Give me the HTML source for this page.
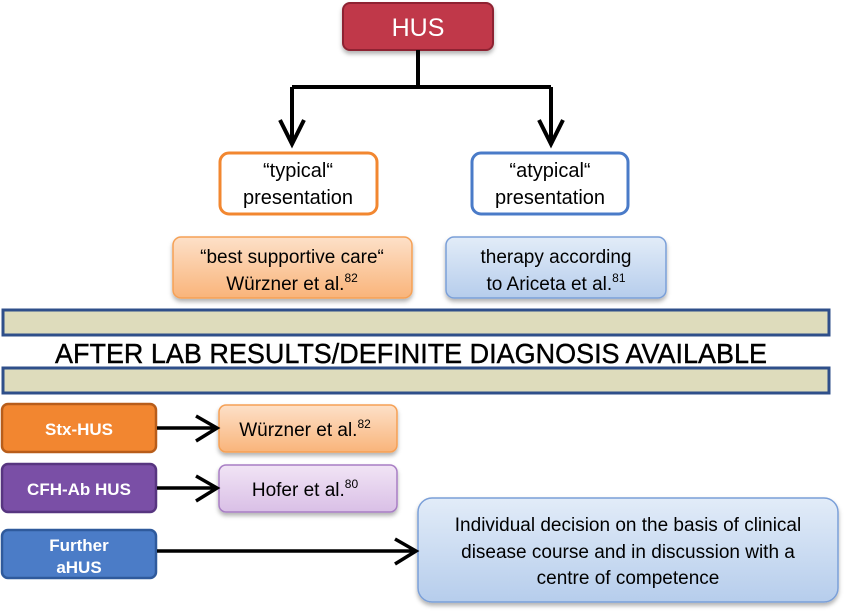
<!DOCTYPE html>
<html><head><meta charset="utf-8"><style>
html,body{margin:0;padding:0;background:#fff;}
svg{display:block;}
text{font-family:"Liberation Sans",sans-serif;}
</style></head><body>
<svg width="844" height="613" viewBox="0 0 844 613" xmlns="http://www.w3.org/2000/svg">
<defs>
<linearGradient id="og" x1="0" y1="0" x2="0" y2="1"><stop offset="0" stop-color="#fde0c8"/><stop offset="1" stop-color="#f9b47a"/></linearGradient>
<linearGradient id="bg" x1="0" y1="0" x2="0" y2="1"><stop offset="0" stop-color="#e2ecf8"/><stop offset="1" stop-color="#b6cdec"/></linearGradient>
<linearGradient id="pg" x1="0" y1="0" x2="0" y2="1"><stop offset="0" stop-color="#f1e4f5"/><stop offset="1" stop-color="#d9bfe6"/></linearGradient>
<filter id="sh" x="-5%" y="-10%" width="110%" height="130%"><feDropShadow dx="0" dy="3" stdDeviation="2" flood-color="#000" flood-opacity="0.3"/></filter>
</defs>
<!-- HUS -->
<rect x="343" y="3" width="150" height="47" rx="7" fill="#c0394a" stroke="#8e2431" stroke-width="2" filter="url(#sh)"/>
<text x="418" y="36" font-size="25" fill="#fff" text-anchor="middle">HUS</text>
<g stroke="#000" stroke-width="4" fill="none">
<path d="M418 50V88M292 87H551M292 87V143M551 87V143"/>
<path d="M280 120L292 144L304 120M539 120L551 144L563 120"/>
</g>
<rect x="220" y="153" width="157" height="61" rx="9" fill="#fff" stroke="#f28730" stroke-width="3"/>
<text x="298" y="177" font-size="20" text-anchor="middle">“typical“</text>
<text x="298" y="204" font-size="20" text-anchor="middle">presentation</text>
<rect x="472" y="153" width="156" height="61" rx="9" fill="#fff" stroke="#4a7bc8" stroke-width="3"/>
<text x="550" y="177" font-size="20" text-anchor="middle">“atypical“</text>
<text x="550" y="204" font-size="20" text-anchor="middle">presentation</text>
<rect x="173" y="237" width="239" height="61" rx="8" fill="url(#og)" stroke="#f5a054" stroke-width="1.5" filter="url(#sh)"/>
<text x="292" y="263" font-size="19" text-anchor="middle">“best supportive care“</text>
<text x="292" y="290" font-size="19" text-anchor="middle">Würzner et al.<tspan font-size="12" dy="-8">82</tspan></text>
<rect x="446" y="237" width="220" height="61" rx="8" fill="url(#bg)" stroke="#7a9fd8" stroke-width="1.5" filter="url(#sh)"/>
<text x="556" y="263" font-size="19" text-anchor="middle">therapy according</text>
<text x="556" y="290" font-size="19" text-anchor="middle">to Ariceta et al.<tspan font-size="12" dy="-8">81</tspan></text>
<!-- bands -->
<rect x="3" y="310" width="826" height="25" fill="#dedcbc" stroke="#2f4f8a" stroke-width="3"/>
<text x="411" y="363" font-size="28" text-anchor="middle" stroke="#000" stroke-width="0.4" textLength="712" lengthAdjust="spacingAndGlyphs">AFTER LAB RESULTS/DEFINITE DIAGNOSIS AVAILABLE</text>
<rect x="3" y="368" width="826" height="25" fill="#dedcbc" stroke="#2f4f8a" stroke-width="3"/>
<!-- rows -->
<rect x="2" y="404" width="154" height="48" rx="6" fill="#f28630" stroke="#b85d1a" stroke-width="2.5"/>
<text x="79" y="435" font-size="17" font-weight="bold" fill="#fff" text-anchor="middle">Stx-HUS</text>
<rect x="219" y="405" width="178" height="47" rx="7" fill="url(#og)" stroke="#f5a054" stroke-width="1.5" filter="url(#sh)"/>
<text x="305" y="436" font-size="19" text-anchor="middle">Würzner et al.<tspan font-size="12" dy="-8">82</tspan></text>
<rect x="2" y="464" width="154" height="48" rx="6" fill="#7a4fa6" stroke="#573580" stroke-width="2.5"/>
<text x="79" y="495" font-size="17" font-weight="bold" fill="#fff" text-anchor="middle">CFH-Ab HUS</text>
<rect x="219" y="465" width="178" height="47" rx="7" fill="url(#pg)" stroke="#a87ec4" stroke-width="1.5" filter="url(#sh)"/>
<text x="305" y="496" font-size="19" text-anchor="middle">Hofer et al.<tspan font-size="12" dy="-8">80</tspan></text>
<rect x="2" y="530" width="154" height="48" rx="6" fill="#4b7cc7" stroke="#2f5a9c" stroke-width="2.5"/>
<text x="79" y="551" font-size="17" font-weight="bold" fill="#fff" text-anchor="middle">Further</text>
<text x="79" y="573" font-size="17" font-weight="bold" fill="#fff" text-anchor="middle">aHUS</text>
<rect x="418" y="498" width="420" height="104" rx="14" fill="url(#bg)" stroke="#7a9fd8" stroke-width="1.5" filter="url(#sh)"/>
<text x="628" y="531" font-size="19" text-anchor="middle">Individual decision on the basis of clinical</text>
<text x="628" y="558" font-size="19" text-anchor="middle">disease course and in discussion with a</text>
<text x="628" y="584" font-size="19" text-anchor="middle">centre of competence</text>
<g stroke="#000" stroke-width="3.5" fill="none">
<path d="M157 428H217M196 416L217 428L196 441"/>
<path d="M157 488H217M196 476L217 488L196 501"/>
<path d="M157 551H416M395 539L416 551L395 564"/>
</g>
</svg>
</body></html>
